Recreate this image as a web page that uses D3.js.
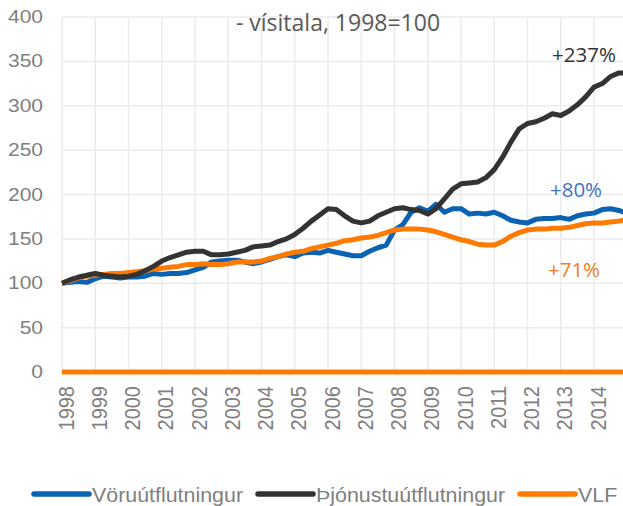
<!DOCTYPE html>
<html>
<head>
<meta charset="utf-8">
<script src="https://cdn.jsdelivr.net/npm/d3@7"></script>
<style>
  html, body { margin: 0; padding: 0; background: #fff; }
  svg { display: block; }
</style>
</head>
<body>
<svg id="chart" width="623" height="506"></svg>
<script>
// ---- data ----
const years = [1998, 1999, 2000, 2001, 2002, 2003, 2004, 2005, 2006, 2007, 2008, 2009, 2010, 2011, 2012, 2013, 2014];
const quarters = years.concat([2015]).flatMap(y => (y === 2015 ? ["Q1"] : ["Q1", "Q2", "Q3", "Q4"]).map(q => y + q));
const yTicks = [0, 50, 100, 150, 200, 250, 300, 350, 400];

const voru = [100, 101, 102, 101, 105, 108, 107, 106, 107, 107, 108, 111, 110, 111, 111, 112,
  115, 118, 124, 125, 126, 126, 124, 122, 124, 127, 130, 132, 130, 134, 135, 134,
  137, 135, 133, 131, 131, 136, 140, 143, 160, 166, 180, 185, 181, 189, 180, 184,
  184, 178, 179, 178, 180, 176, 171, 169, 168, 172, 173, 173, 174, 172, 176, 178,
  179, 183, 184, 182, 179];
const thjonusta = [100, 104, 107, 109, 111, 109, 108, 107, 108, 110, 114, 119, 125, 129, 132, 135,
  136, 136, 132, 132, 133, 135, 137, 141, 142, 143, 147, 150, 155, 162, 170, 177,
  184, 183, 176, 170, 168, 170, 176, 180, 184, 185, 183, 182, 178, 184, 195, 206,
  212, 213, 214, 219, 228, 242, 259, 274, 280, 282, 286, 291, 289, 294, 301, 310,
  321, 325, 333, 337, 337];
const vlf = [100, 103, 106, 108, 109, 110, 111, 111, 112, 113, 114, 116, 117, 118, 119, 121,
  121, 122, 121, 121, 122, 124, 124, 124, 125, 128, 130, 133, 135, 136, 139, 141,
  143, 145, 148, 149, 151, 152, 154, 157, 160, 161, 161, 161, 160, 158, 155, 152,
  149, 147, 144, 143, 143, 147, 153, 157, 160, 161, 161, 162, 162, 163, 165, 167,
  168, 168, 169, 170, 172];

const seriesNames = ["Vöruútflutningur", "Þjónustuútflutningur", "VLF"];
const seriesColors = ["#0A62B2", "#333333", "#FF7A00"];
const seriesData = [voru, thjonusta, vlf];
const changeLabels = ["+80%", "+237%", "+71%"];
const labelColors = ["#4472C4", "#333333", "#F57C1F"];
const subtitle = "- vísitala, 1998=100";

// ---- layout ----
const svg = d3.select("#chart");
const x = d3.scaleLinear().domain([0, 68]).range([62, 62 + 68 * 8.3125]);
const y = d3.scaleLinear().domain([0, 400]).range([372, 17]);
const gray = "#808080";

// grid
const grid = svg.append("g");
grid.selectAll("line.h").data(yTicks).join("line")
  .attr("x1", x(0)).attr("x2", 623)
  .attr("y1", d => y(d)).attr("y2", d => y(d))
  .attr("stroke", "#ebebeb").attr("stroke-width", 1.5);
grid.selectAll("line.v").data(years).join("line")
  .attr("x1", (d, i) => x(i * 4)).attr("x2", (d, i) => x(i * 4))
  .attr("y1", y(400)).attr("y2", y(0))
  .attr("stroke", "#ebebeb").attr("stroke-width", 1.5);

// y labels
svg.append("g").selectAll("text").data(yTicks).join("text")
  .attr("transform", d => `translate(43,${y(d) + 6}) scale(1.2,1)`)
  .attr("text-anchor", "end")
  .attr("font-family", "Liberation Sans, Arial, sans-serif")
  .attr("font-size", 17.5)
  .attr("fill", gray)
  .text(d => d);

// x labels
svg.append("g").selectAll("text").data(years).join("text")
  .attr("transform", (d, i) => `translate(${x(i * 4) + 11.5},386) scale(1.12,1) rotate(-90)`)
  .attr("text-anchor", "end")
  .attr("font-family", "Liberation Sans, Arial, sans-serif")
  .attr("font-size", 20)
  .attr("fill", gray)
  .text(d => d);

// lines
const line = d3.line().x((d, i) => x(i)).y(d => y(d));
svg.append("g").selectAll("path").data([0, 2, 1]).join("path")
  .attr("d", k => line(seriesData[k]))
  .attr("fill", "none")
  .attr("stroke", k => seriesColors[k])
  .attr("stroke-width", 5)
  .attr("stroke-linejoin", "round");

// zero axis line (orange)
svg.append("line")
  .attr("x1", x(0)).attr("x2", 623)
  .attr("y1", y(0)).attr("y2", y(0))
  .attr("stroke", seriesColors[2]).attr("stroke-width", 5);

// subtitle
svg.append("text")
  .attr("x", 338).attr("y", 31)
  .attr("text-anchor", "middle")
  .attr("font-family", "Open Sans, sans-serif")
  .attr("font-size", 23)
  .attr("fill", "#595959")
  .text(subtitle);

// change labels
const labelPos = [[576, 197], [584, 62], [574, 277]];
svg.append("g").selectAll("text").data([0, 1, 2]).join("text")
  .attr("x", k => labelPos[k][0]).attr("y", k => labelPos[k][1])
  .attr("text-anchor", "middle")
  .attr("font-family", "Open Sans, sans-serif")
  .attr("font-size", 20.5)
  .attr("fill", k => labelColors[k])
  .text(k => changeLabels[k]);

// legend
const legX = [34, 258, 520];
const leg = svg.append("g");
leg.selectAll("line").data([0, 1, 2]).join("line")
  .attr("x1", k => legX[k]).attr("x2", k => legX[k] + 55)
  .attr("y1", 494).attr("y2", 494)
  .attr("stroke", k => seriesColors[k])
  .attr("stroke-width", 5.5)
  .attr("stroke-linecap", "round");
leg.selectAll("text").data([0, 1, 2]).join("text")
  .attr("transform", k => `translate(${legX[k] + 58},502) scale(1.07,1)`)
  .attr("font-family", "Liberation Sans, Arial, sans-serif")
  .attr("font-size", 20)
  .attr("fill", gray)
  .text(k => seriesNames[k]);
</script>
</body>
</html>
